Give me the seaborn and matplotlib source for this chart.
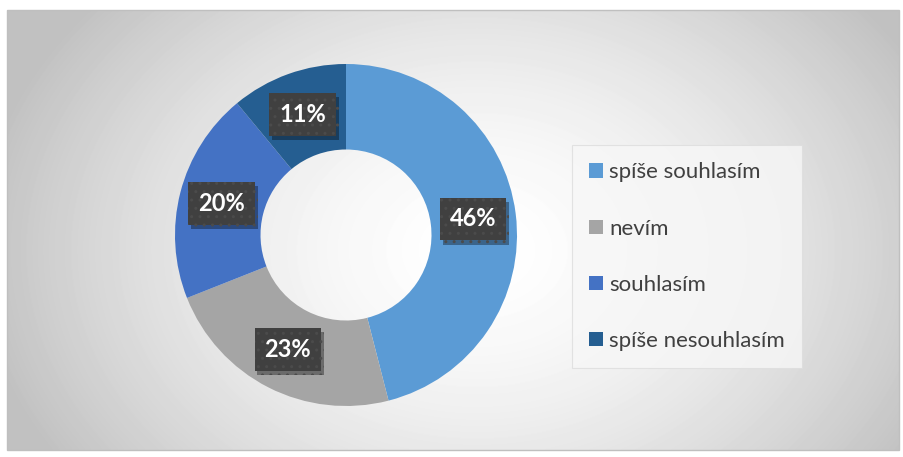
import numpy as np
import matplotlib
matplotlib.use("Agg")
import matplotlib.pyplot as plt
import matplotlib.patheffects as pe
import seaborn as sns
from matplotlib.patches import Rectangle

# data
labels = ["spíše souhlasím", "nevím", "souhlasím", "spíše nesouhlasím"]
shares = [46, 23, 20, 11]
colors = ["#5B9BD5", "#A5A5A5", "#4472C4", "#255E91"]

sns.set_theme(style="white")
plt.rcParams["font.family"] = ["Lato", "DejaVu Sans"]

W, H = 904, 457
fig = plt.figure(figsize=(W / 100, H / 100), dpi=100)

# ── background: chart area with radial grey gradient ─────────────────────────
bg = fig.add_axes([7 / W, 1 - 450 / H, (899 - 7) / W, (450 - 10) / H])
yy, xx = np.mgrid[0:440, 0:892]
cx, cy = 470, 240
d = np.sqrt(((xx - cx) / 500) ** 2 + ((yy - cy) / 380) ** 2)
shade = 1.0 - 0.24 * np.clip(d, 0, 1) ** 1.6
bg.imshow(shade, cmap="gray", vmin=0, vmax=1, aspect="auto", interpolation="bilinear")
bg.set_axis_off()
fig.add_artist(Rectangle((7 / W, 1 - 450 / H), (899 - 7) / W, (450 - 10) / H,
                         transform=fig.transFigure, fill=False,
                         edgecolor="#BFBFBF", linewidth=1.0))

# ── donut ────────────────────────────────────────────────────────────────────
r_px = 171
cxp, cyp = 346, 235
ax = fig.add_axes([(cxp - r_px) / W, 1 - (cyp + r_px) / H, 2 * r_px / W, 2 * r_px / H])
wedges, _ = ax.pie(shares, colors=colors, startangle=90, counterclock=False,
                   radius=1.0, wedgeprops=dict(width=0.5, edgecolor="none"))
ax.set_xlim(-1, 1)
ax.set_ylim(-1, 1)
ax.set_aspect("equal")
ax.set_axis_off()

for w, s in zip(wedges, shares):
    ang = np.deg2rad((w.theta1 + w.theta2) / 2)
    x, y = 0.75 * np.cos(ang), 0.75 * np.sin(ang)
    t = ax.text(x, y, f"{s}%", ha="center", va="center", fontsize=17,
                fontweight="bold", color="white",
                bbox=dict(boxstyle="square,pad=0.42", facecolor="#404040",
                          edgecolor="#4B4B4B", hatch="..", linewidth=0))
    t.get_bbox_patch().set_path_effects([
        pe.SimplePatchShadow(offset=(2, -3), shadow_rgbFace="black", alpha=0.35),
        pe.Normal(),
    ])

# ── legend ───────────────────────────────────────────────────────────────────
handles = [Rectangle((0, 0), 1, 1, facecolor=c, edgecolor="none") for c in colors]
leg = fig.legend(handles, labels, loc="upper left",
                 bbox_to_anchor=(572 / W, 1 - 145 / H),
                 fontsize=16, frameon=True, handlelength=0.6, handleheight=0.6,
                 handletextpad=0.3, labelspacing=1.63, borderpad=0.78,
                 borderaxespad=0)
leg.get_frame().set_facecolor("#F7F7F7")
leg.get_frame().set_edgecolor("#DDDDDD")
leg.get_frame().set_boxstyle("square", pad=0)
leg.get_frame().set_linewidth(0.8)
for t in leg.get_texts():
    t.set_color("#404040")

fig.savefig("out.png", dpi=100)
